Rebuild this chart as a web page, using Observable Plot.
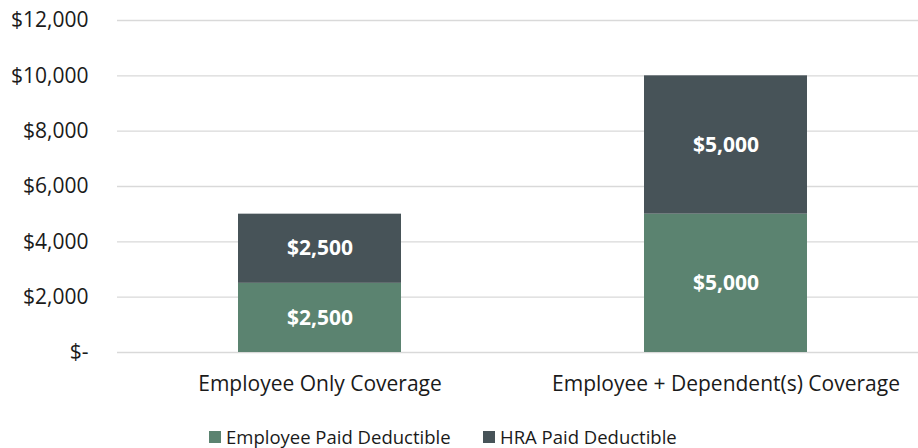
<!DOCTYPE html>
<html>
<head>
<meta charset="utf-8">
<script src="https://cdn.jsdelivr.net/npm/d3@7"></script>
<script src="https://cdn.jsdelivr.net/npm/@observablehq/plot@0.6"></script>
<style>
  body { margin: 0; background: #fff; font-family: "Open Sans", sans-serif; }
  #chart { width: 918px; height: 448px; position: relative; overflow: hidden; }
  .legend { position: relative; height: 38px; }
  .item { position: absolute; top: 17px; height: 20px; line-height: 20px; font-size: 18.5px; color: #1a1a1a; display: flex; align-items: center; white-space: nowrap; }
  .sw { width: 12px; height: 12px; margin-right: 5px; display: inline-block; }
</style>
</head>
<body>
<div id="chart"></div>
<script>
const categories = ["Employee Only Coverage", "Employee + Dependent(s) Coverage"];
const series = ["Employee Paid Deductible", "HRA Paid Deductible"];
const employeePaid = [2500, 5000];
const hraPaid = [2500, 5000];
const yTicks = [0, 2000, 4000, 6000, 8000, 10000, 12000];
const colors = ["#5b8370", "#475358"];

const data = categories.flatMap((c, i) => [
  {category: c, series: series[0], value: employeePaid[i]},
  {category: c, series: series[1], value: hraPaid[i]}
]);

const money = d => d === 0 ? "$-" : "$" + d3.format(",")(d);

const plot = Plot.plot({
  width: 918,
  height: 410,
  marginTop: 20,
  marginBottom: 58,
  marginLeft: 117,
  marginRight: 0,
  style: {fontFamily: "Open Sans", fontSize: "21px", color: "#1a1a1a", background: "#fff"},
  x: {domain: categories, paddingInner: 0.5985, paddingOuter: 0.2857, align: 0.5216, label: null, tickSize: 0, tickPadding: 24},
  y: {domain: [0, 12000], ticks: yTicks, tickFormat: money, label: null, tickSize: 0, tickPadding: 29},
  color: {domain: series, range: colors},
  marks: [
    Plot.ruleY(yTicks, {stroke: "#d9d9d9", strokeWidth: 1.3}),
    Plot.barY(data, {x: "category", y: "value", fill: "series"}),
    Plot.text(data, Plot.stackY({x: "category", y: "value", z: "series", text: d => money(d.value), fill: "white", fontWeight: "bold", fontSize: 21}))
  ]
});

const chart = document.getElementById("chart");
chart.appendChild(plot);

const legend = document.createElement("div");
legend.className = "legend";
const lefts = [209, 483];
series.forEach((s, i) => {
  const it = document.createElement("div");
  it.className = "item";
  it.style.left = lefts[i] + "px";
  const sw = document.createElement("span");
  sw.className = "sw";
  sw.style.background = colors[i];
  it.appendChild(sw);
  it.appendChild(document.createTextNode(s));
  legend.appendChild(it);
});
chart.appendChild(legend);
</script>
</body>
</html>
